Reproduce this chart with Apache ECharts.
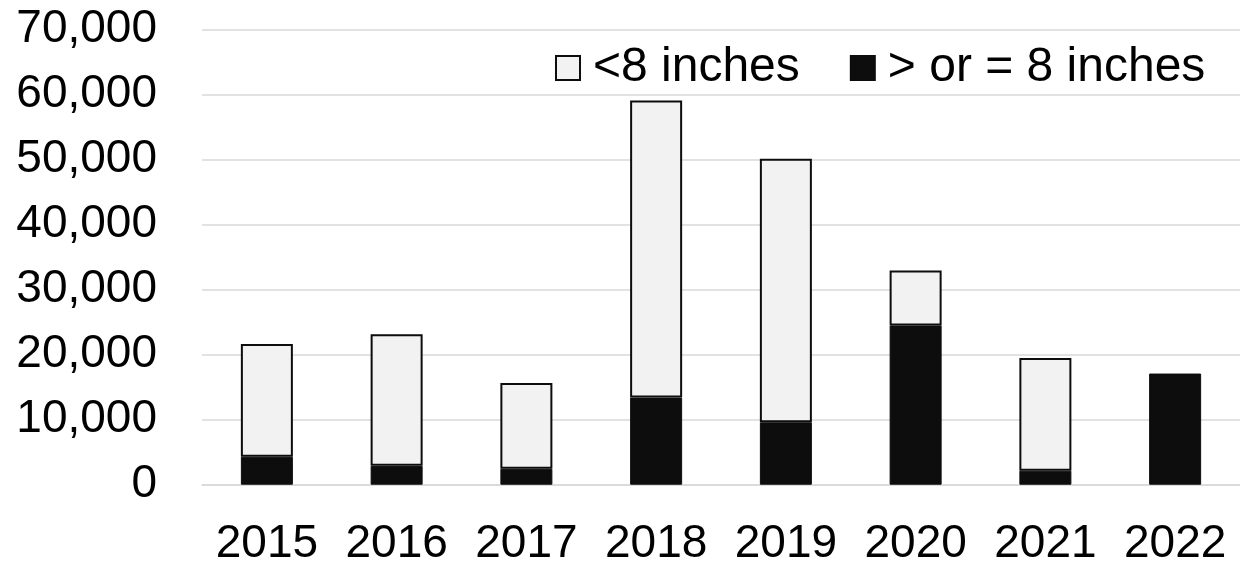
<!DOCTYPE html>
<html>
<head>
<meta charset="utf-8">
<script src="https://cdn.jsdelivr.net/npm/echarts@6/dist/echarts.min.js"></script>
<style>
html,body{margin:0;padding:0;background:#fff;}
#chart{width:1240px;height:565px;}
</style>
</head>
<body>
<div id="chart"></div>
<script>
var years = ['2015', '2016', '2017', '2018', '2019', '2020', '2021', '2022'];
var under8 = [17350, 20250, 13200, 45700, 40550, 8450, 17350, null];
var over8 = [4300, 2900, 2450, 13400, 9600, 24500, 2150, 17100];
var yTicks = { min: 0, max: 70000, interval: 10000 };

var chart = echarts.init(document.getElementById('chart'), null, { renderer: 'canvas' });
var font = 'Liberation Sans, Arial, sans-serif';
chart.setOption({
  animation: false,
  backgroundColor: '#ffffff',
  textStyle: { fontFamily: font },
  legend: {
    left: 550,
    top: 39,
    itemWidth: 24,
    itemHeight: 24,
    itemGap: 50,
    icon: 'rect',
    textStyle: { fontSize: 48, color: '#000', fontFamily: font, padding: [0, 0, 0, 8] },
    data: ['<8 inches', '> or = 8 inches']
  },
  grid: { left: 202, right: 0, top: 29.7, bottom: 80.3, outerBoundsMode: 'none', containLabel: false },
  xAxis: {
    type: 'category',
    data: years,
    axisLine: { lineStyle: { color: '#d9d9d9', width: 1.5 } },
    axisTick: { show: false },
    axisLabel: { fontSize: 46, color: '#000', margin: 37, interval: 0, fontFamily: font }
  },
  yAxis: {
    type: 'value',
    min: yTicks.min,
    max: yTicks.max,
    interval: yTicks.interval,
    axisLine: { show: false },
    axisTick: { show: false },
    splitLine: { lineStyle: { color: '#d9d9d9', width: 1.5 } },
    axisLabel: {
      fontSize: 46, color: '#000', margin: 45, fontFamily: font,
      formatter: function (v) { return v.toLocaleString('en-US'); }
    }
  },
  series: [
    {
      name: '> or = 8 inches',
      type: 'bar',
      stack: 'total',
      barWidth: 52,
      data: over8,
      itemStyle: { color: '#0d0d0d', borderColor: '#0d0d0d', borderWidth: 1 }
    },
    {
      name: '<8 inches',
      type: 'bar',
      stack: 'total',
      barWidth: 52,
      data: under8,
      itemStyle: { color: '#f2f2f2', borderColor: '#0d0d0d', borderWidth: 2 }
    }
  ]
});
</script>
</body>
</html>
